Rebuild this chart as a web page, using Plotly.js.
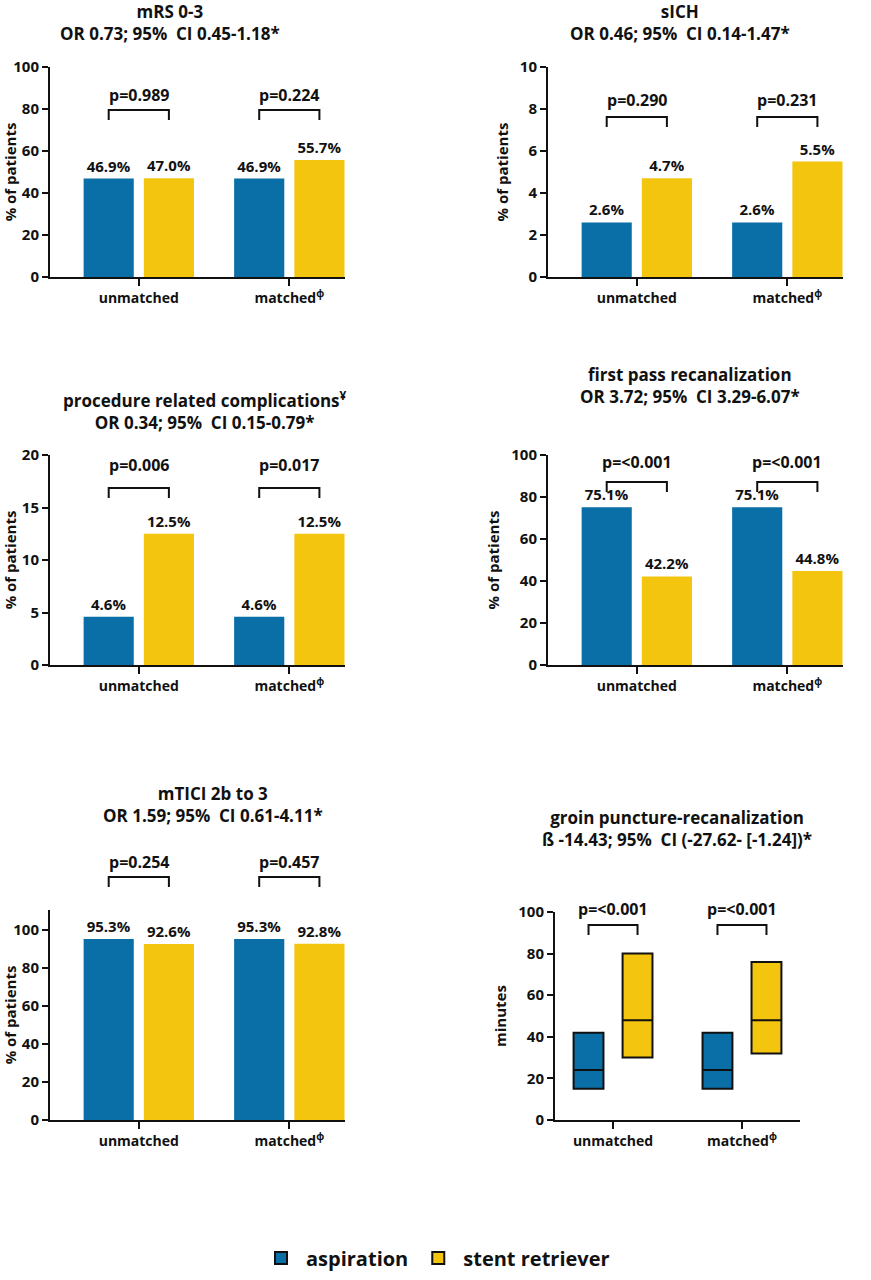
<!DOCTYPE html>
<html>
<head>
<meta charset="utf-8">
<script src="https://cdn.plot.ly/plotly-3.0.1.min.js"></script>
<style>body{margin:0;background:#fff}#chart{width:871px;height:1280px}</style>
</head>
<body>
<div id="chart"></div>
<script>
var groups = ['unmatched', 'matched<sup>ϕ</sup>'];

var mrs_asp = [46.9, 46.9], mrs_stent = [47.0, 55.7];
var sich_asp = [2.6, 2.6], sich_stent = [4.7, 5.5];
var comp_asp = [4.6, 4.6], comp_stent = [12.5, 12.5];
var fpr_asp = [75.1, 75.1], fpr_stent = [42.2, 44.8];
var tici_asp = [95.3, 95.3], tici_stent = [92.6, 92.8];

// groin puncture-recanalization, minutes: q1 / median / q3
var groin_asp_q1 = [15, 15], groin_asp_med = [24, 24], groin_asp_q3 = [42, 42];
var groin_stent_q1 = [30, 32], groin_stent_med = [48, 48], groin_stent_q3 = [80, 76];

var titles = [
  'mRS 0-3<br>OR 0.73; 95%  CI 0.45-1.18*',
  'sICH<br>OR 0.46; 95%  CI 0.14-1.47*',
  'procedure related complications<sup>¥</sup><br>OR 0.34; 95%  CI 0.15-0.79*',
  'first pass recanalization<br>OR 3.72; 95%  CI 3.29-6.07*',
  'mTICI 2b to 3<br>OR 1.59; 95%  CI 0.61-4.11*',
  'groin puncture-recanalization<br>ß -14.43; 95%  CI (-27.62- [-1.24])*'
];
var pvals = [
  ['p=0.989', 'p=0.224'], ['p=0.290', 'p=0.231'], ['p=0.006', 'p=0.017'],
  ['p=<0.001', 'p=<0.001'], ['p=0.254', 'p=0.457'], ['p=<0.001', 'p=<0.001']
];

var BLUE = '#0a6ea7', YELLOW = '#f3c50f';
var W = 871, H = 1280;
function px(x) { return x / W; }
function py(y) { return 1 - y / H; }

// panel geometry in pixels
var panels = [
  {x0: 50, x1: 345, y0: 67, y1: 277, yr: [0, 100], dt: 20, xr: [-0.59, 1.37], tc: 170, ty: 22, pt: 95, bt: 110},
  {x0: 548, x1: 843, y0: 67, y1: 277, yr: [0, 10], dt: 2, xr: [-0.59, 1.37], tc: 680, ty: 22, pt: 100, bt: 117},
  {x0: 50, x1: 345, y0: 455, y1: 665, yr: [0, 20], dt: 5, xr: [-0.59, 1.37], tc: 205, ty: 411, pt: 465, bt: 488},
  {x0: 548, x1: 843, y0: 455, y1: 665, yr: [0, 100], dt: 20, xr: [-0.59, 1.37], tc: 690, ty: 386, pt: 462, bt: 482},
  {x0: 50, x1: 345, y0: 910, y1: 1120, yr: [0, 110.5], dt: 20, xr: [-0.59, 1.37], tc: 213, ty: 804, pt: 862, bt: 877},
  {x0: 555, x1: 800, y0: 912, y1: 1120, yr: [0, 100], dt: 20, xr: [-0.45, 1.45], tc: 677, ty: 828, pt: 909, bt: 925}
];

var FONT = 'Open Sans, Noto Sans, sans-serif';
var data = [];
var barSets = [[mrs_asp, mrs_stent], [sich_asp, sich_stent], [comp_asp, comp_stent],
               [fpr_asp, fpr_stent], [tici_asp, tici_stent]];

barSets.forEach(function (s, i) {
  var ax = i === 0 ? '' : String(i + 1);
  [[s[0], BLUE], [s[1], YELLOW]].forEach(function (t) {
    data.push({
      type: 'bar', x: groups, y: t[0], xaxis: 'x' + ax, yaxis: 'y' + ax,
      marker: {color: t[1]}, showlegend: false, cliponaxis: false,
      text: t[0].map(function (v) { return v.toFixed(1) + '%'; }),
      textposition: 'outside', textfont: {size: 15, color: '#111', family: FONT, weight: 'bold'},
      hoverinfo: 'skip'
    });
  });
});

data.push({
  type: 'box', name: 'aspiration', x: groups, q1: groin_asp_q1, median: groin_asp_med,
  q3: groin_asp_q3, lowerfence: groin_asp_q1, upperfence: groin_asp_q3,
  xaxis: 'x6', yaxis: 'y6', fillcolor: BLUE, line: {color: '#111', width: 2},
  boxpoints: false, whiskerwidth: 0
});
data.push({
  type: 'box', name: 'stent retriever', x: groups, q1: groin_stent_q1, median: groin_stent_med,
  q3: groin_stent_q3, lowerfence: groin_stent_q1, upperfence: groin_stent_q3,
  xaxis: 'x6', yaxis: 'y6', fillcolor: YELLOW, line: {color: '#111', width: 2},
  boxpoints: false, whiskerwidth: 0
});

var layout = {
  width: W, height: H, margin: {l: 0, r: 0, t: 0, b: 0},
  paper_bgcolor: '#fff', plot_bgcolor: '#fff',
  font: {family: FONT, color: '#111', size: 14, weight: 'bold'},
  barmode: 'group', bargap: 0.2, bargroupgap: 0.167,
  boxmode: 'group', boxgap: 0.24, boxgroupgap: 0.39,
  legend: {orientation: 'h', x: 0.5, xanchor: 'center', y: py(1258), yanchor: 'middle',
           font: {size: 20, weight: 'bold'}, itemwidth: 40, traceorder: 'normal'},
  annotations: [], shapes: []
};

panels.forEach(function (p, i) {
  var ax = i === 0 ? '' : String(i + 1);
  layout['xaxis' + ax] = {
    domain: [px(p.x0), px(p.x1)], range: p.xr, anchor: 'y' + ax, type: 'category',
    showline: true, linewidth: 2, linecolor: '#111', ticks: 'outside', ticklen: 7,
    tickwidth: 2, tickcolor: '#111', showgrid: false, zeroline: false,
    tickfont: {size: 14, weight: 'bold'}, fixedrange: true
  };
  layout['yaxis' + ax] = {
    domain: [py(p.y1), py(p.y0)], range: p.yr, anchor: 'x' + ax, dtick: p.dt,
    showline: true, linewidth: 2, linecolor: '#111', ticks: 'outside', ticklen: 6,
    tickwidth: 2, tickcolor: '#111', showgrid: false, zeroline: false,
    tickfont: {size: 15, weight: 'bold'},
    title: {text: i === 5 ? 'minutes' : '% of patients', font: {size: 15, weight: 'bold'}, standoff: 8}
  };
  layout.annotations.push({
    xref: 'paper', yref: 'paper', x: px(p.tc), y: py(p.ty), text: titles[i],
    showarrow: false, font: {size: 17, weight: 'bold'}, xanchor: 'center', yanchor: 'middle'
  });
  var off = i === 5 ? 0.19 : 0.2;
  [0, 1].forEach(function (g) {
    layout.annotations.push({
      xref: 'x' + ax, yref: 'paper', x: g, y: py(p.pt), text: pvals[i][g],
      showarrow: false, font: {size: 16, weight: 'bold'}, yanchor: 'middle'
    });
    layout.shapes.push({
      type: 'path', xref: 'x' + ax, yref: 'paper',
      path: 'M ' + (g - off) + ' ' + py(p.bt + 10) + ' L ' + (g - off) + ' ' + py(p.bt) +
            ' L ' + (g + off) + ' ' + py(p.bt) + ' L ' + (g + off) + ' ' + py(p.bt + 10),
      line: {color: '#111', width: 2}
    });
  });
});

Plotly.newPlot('chart', data, layout, {staticPlot: true});
</script>
</body>
</html>
